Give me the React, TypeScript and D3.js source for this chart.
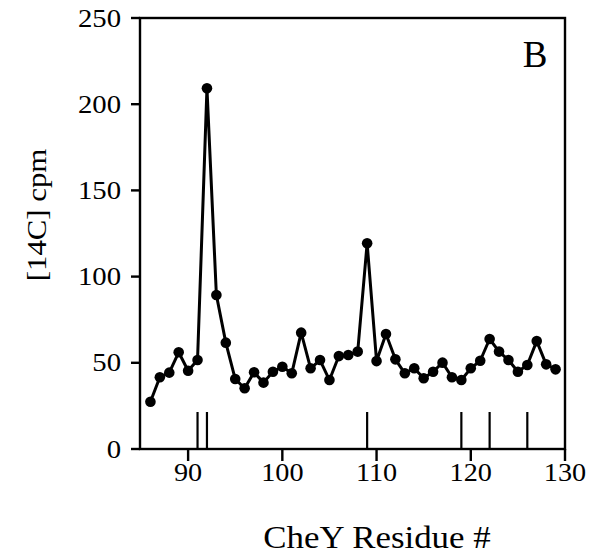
import React from "react";
import * as d3 from "d3";

const residues = [86,87,88,89,90,91,92,93,94,95,96,97,98,99,100,101,102,103,104,105,106,107,108,109,110,111,112,113,114,115,116,117,118,119,120,121,122,123,124,125,126,127,128,129];
const cpm = [27.4,41.6,44.3,56.1,45.4,51.6,209.2,89.3,61.7,40.6,35.2,44.5,38.5,44.8,47.7,43.9,67.5,46.8,51.6,40.0,53.9,54.5,56.5,119.3,51.0,66.7,52.0,43.9,46.8,41.0,44.8,50.1,41.6,40.0,46.8,51.2,63.8,56.5,51.6,44.8,48.7,62.6,49.1,46.2];
const markerResidues = [91,92,109,119,122,126];
const xTicks = [90,100,110,120,130];
const yTicks = [0,50,100,150,200,250];
const xTitle = "CheY Residue #";
const yTitle = "[14C] cpm";
const panelLabel = "B";

const FONT = "'Liberation Serif', 'Times New Roman', serif";

function STxt(props: { x: number; y: number; text: string; size: number; sx?: number; anchor?: string; rotate?: number }) {
  const { x, y, text, size, sx = 1, anchor = "middle", rotate = 0 } = props;
  return (
    <text
      transform={`translate(${x},${y}) rotate(${rotate}) scale(${sx},1)`}
      textAnchor={anchor}
      fontFamily={FONT}
      fontSize={size}
      fill="#000"
    >
      {text}
    </text>
  );
}

export default function App() {
  const W = 594, H = 554;
  const left = 140, right = 565, top = 18, bottom = 449;
  const x = d3.scaleLinear().domain([85, 130]).range([141, 565]);
  const y = d3.scaleLinear().domain([0, 250]).range([bottom, top]);
  const line = d3.line<number>().x((_, i) => x(residues[i])).y((d) => y(d));

  return (
    <svg width={W} height={H} style={{ position: "absolute", left: 0, top: 0, background: "#fff" }}>
      <rect x={0} y={0} width={W} height={H} fill="#fff" />
      <rect x={left} y={top} width={right - left} height={bottom - top} fill="none" stroke="#000" strokeWidth={2.4} />
      {yTicks.map((t) => (
        <g key={"y" + t}>
          <line x1={131} x2={left} y1={y(t)} y2={y(t)} stroke="#000" strokeWidth={2.4} />
          <STxt x={121} y={y(t) + 8.5} text={String(t)} size={25} sx={1.15} anchor="end" />
        </g>
      ))}
      {xTicks.map((t) => (
        <g key={"x" + t}>
          <line x1={x(t)} x2={x(t)} y1={bottom} y2={461} stroke="#000" strokeWidth={2.4} />
          <STxt x={x(t)} y={481} text={String(t)} size={25} sx={1.13} anchor="middle" />
        </g>
      ))}
      {markerResidues.map((r) => (
        <line key={"m" + r} x1={x(r)} x2={x(r)} y1={412} y2={bottom} stroke="#000" strokeWidth={2.2} />
      ))}
      <path d={line(cpm) || ""} fill="none" stroke="#000" strokeWidth={3} strokeLinejoin="round" />
      {cpm.map((v, i) => (
        <circle key={"c" + i} cx={x(residues[i])} cy={y(v)} r={5.3} fill="#000" />
      ))}
      <STxt x={535} y={67} text={panelLabel} size={37} />
      <STxt x={377} y={548} text={xTitle} size={32} sx={1.09} />
      <STxt x={46} y={215} text={yTitle} size={28} sx={1.1} rotate={-90} />
    </svg>
  );
}
